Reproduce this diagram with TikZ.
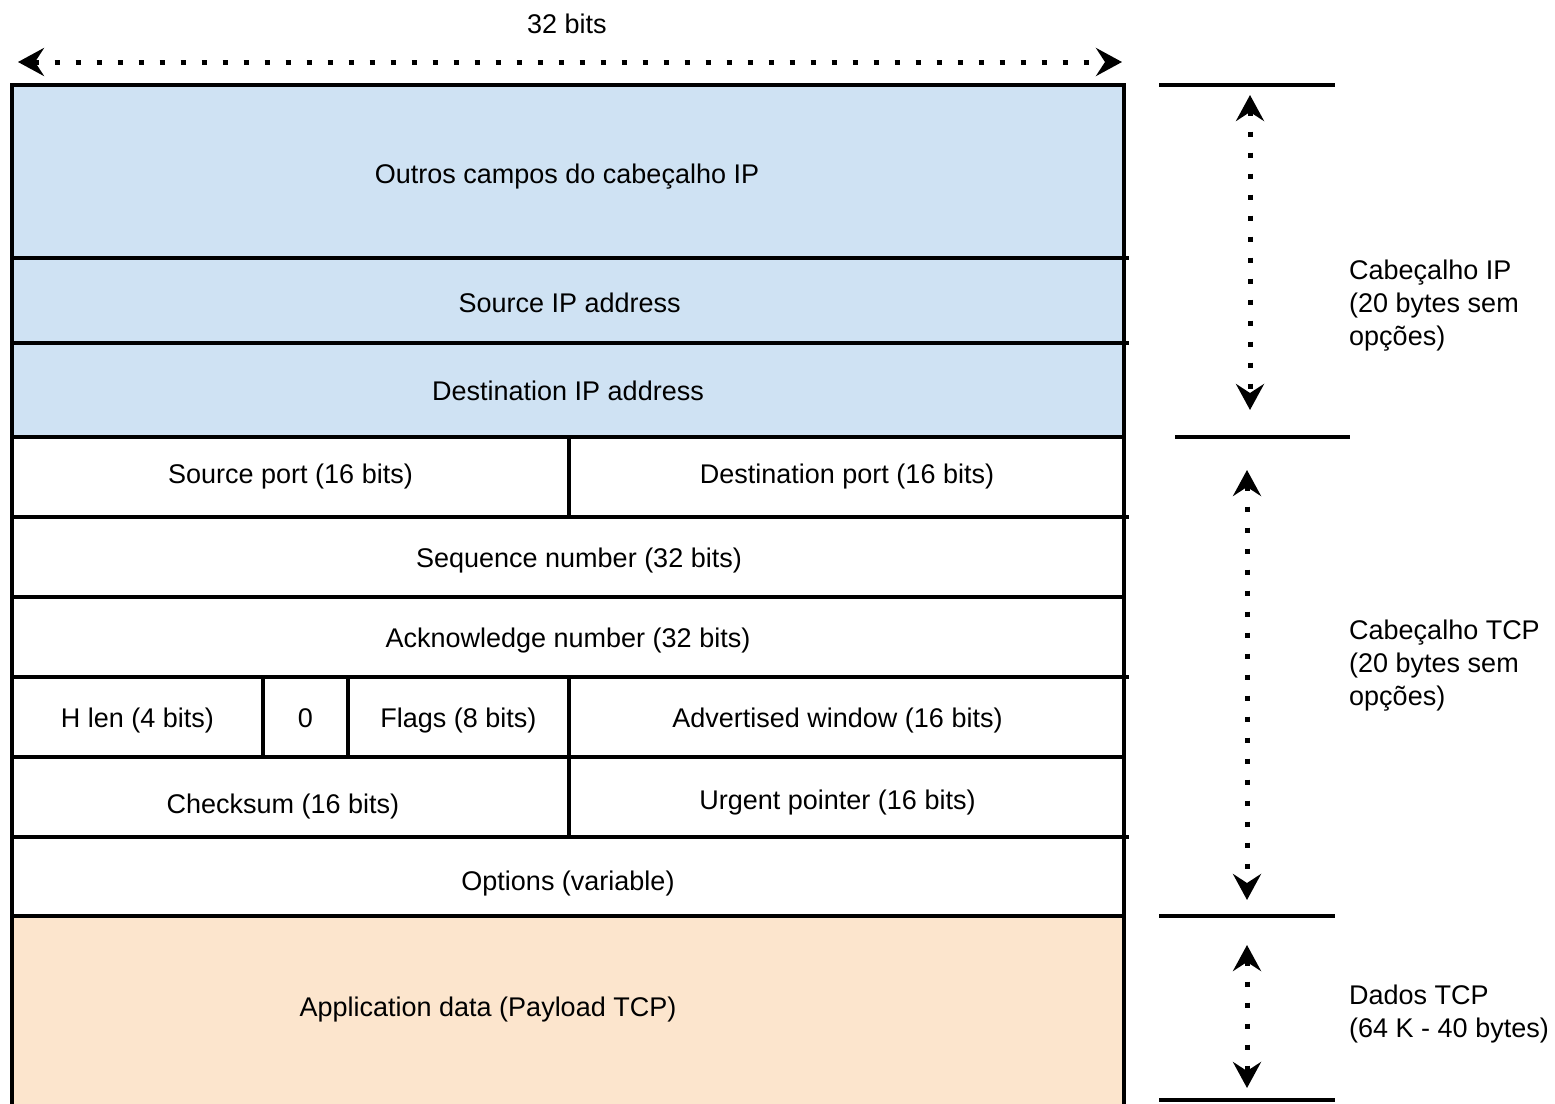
\documentclass[tikz,border=0pt]{standalone}
\usepackage{fontspec}
\setmainfont{Liberation Sans}
\usetikzlibrary{arrows.meta}
\definecolor{ipblue}{HTML}{CFE2F3}
\definecolor{payorange}{HTML}{FCE5CD}
% name, x1, y1, x2, y2, text, fill, text x, text baseline y
\newcommand\fieldbox[9]{%
  \node[field, fill=#7, minimum width={(#4-#2)*1pt}, minimum height={(#5-#3)*1pt}] (#1) at ({(#2+#4)/2},{(#3+#5)/2}) {};
  \node[fieldtext] (#1-t) at (#8,#9) {#6};}
\begin{document}
\begin{tikzpicture}[x=1pt,y=-1pt,
  every node/.style={font=\fontsize{27pt}{33pt}\selectfont},
  field/.style={draw, line width=4pt, inner sep=0pt, outer sep=0pt, rectangle},
  fieldtext/.style={anchor=base, inner sep=0pt},
  tickline/.style={line width=4pt},
  span/.style={line width=5pt, dash pattern=on 5pt off 16pt,
    {Stealth[length=26pt,width=28pt,inset=9pt]}-{Stealth[length=26pt,width=28pt,inset=9pt]}},
  side/.style={anchor=north west, align=left, inner sep=0pt}]
\useasboundingbox (0,0) rectangle (1555,1103);
% header fields
\fieldbox{ipother}{12}{85}{1124}{258}{Outros campos do cabeçalho IP}{ipblue}{567}{183.3}
\fieldbox{srcip}{12}{258}{1124}{343}{Source IP address}{ipblue}{569.7}{312.3}
\fieldbox{dstip}{12}{343}{1124}{437}{Destination IP address}{ipblue}{568}{400}
\fieldbox{sport}{12}{437}{569}{517}{Source port (16 bits)}{white}{290.5}{483.3}
\fieldbox{dport}{569}{437}{1124}{517}{Destination port (16 bits)}{white}{847}{483.3}
\fieldbox{seq}{12}{517}{1124}{597}{Sequence number (32 bits)}{white}{579}{567.7}
\fieldbox{ack}{12}{597}{1124}{677}{Acknowledge number (32 bits)}{white}{568}{647.3}
\fieldbox{hlen}{12}{677}{263}{757}{H len (4 bits)}{white}{137.5}{727.3}
\fieldbox{zero}{263}{677}{348}{757}{0}{white}{305.5}{727.3}
\fieldbox{flags}{348}{677}{569}{757}{Flags (8 bits)}{white}{458.5}{727.3}
\fieldbox{adv}{569}{677}{1124}{757}{Advertised window (16 bits)}{white}{837.5}{727.3}
\fieldbox{cks}{12}{757}{569}{837}{Checksum (16 bits)}{white}{283}{813.3}
\fieldbox{urg}{569}{757}{1124}{837}{Urgent pointer (16 bits)}{white}{837.5}{809.3}
\fieldbox{opt}{12}{837}{1124}{916}{Options (variable)}{white}{568}{890}
\begin{scope}
\clip (0,0) rectangle (1555,1103);
\fieldbox{payload}{12}{916}{1124}{1130}{Application data (Payload TCP)}{payorange}{488}{1016.7}
\end{scope}
% small overhangs of separator lines
\draw[tickline] (srcip.north east) -- ++(5,0);
\draw[tickline] (dstip.north east) -- ++(5,0);
\draw[tickline] (seq.north east) -- ++(5,0);
\draw[tickline] (hlen.north -| adv.east) -- ++(5,0);
\draw[tickline] (opt.north east) -- ++(5,0);
% width arrow
\coordinate (wl) at (18,62);
\coordinate (wr) at (1122,62);
\draw[span] (wl) -- (wr);
\node (wlabel) at (567,24) {32 bits};
% right side ticks
\coordinate (t1a) at (1159,85);  \coordinate (t1b) at (1335,85);
\coordinate (t2a) at (1175,437); \coordinate (t2b) at (1350,437);
\coordinate (t3a) at (1159,916); \coordinate (t3b) at (1335,916);
\coordinate (t4a) at (1159,1100); \coordinate (t4b) at (1335,1100);
\draw[tickline] (t1a) -- (t1b);
\draw[tickline] (t2a) -- (t2b);
\draw[tickline] (t3a) -- (t3b);
\draw[tickline] (t4a) -- (t4b);
% right side spans
\coordinate (a1s) at (1250,95);  \coordinate (a1e) at (1250,410);
\coordinate (a2s) at (1247,470); \coordinate (a2e) at (1247,900);
\coordinate (a3s) at (1247,945); \coordinate (a3e) at (1247,1088);
\draw[span] (a1s) -- (a1e);
\draw[span] (a2s) -- (a2e);
\draw[span] (a3s) -- (a3e);
% labels
\node[side] (lip) at (1349,259.5) {Cabeçalho IP\\(20 bytes sem\\opções)};
\node[side] (ltcp) at (1349,620) {Cabeçalho TCP\\(20 bytes sem\\opções)};
\node[side] (ldata) at (1349,985) {Dados TCP\\(64 K - 40 bytes)};
\end{tikzpicture}
\end{document}
